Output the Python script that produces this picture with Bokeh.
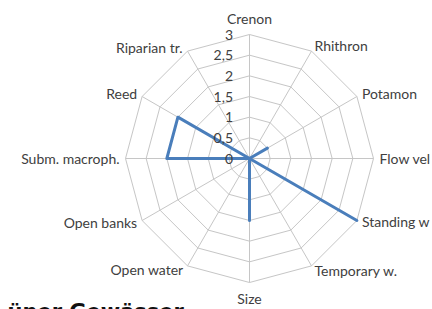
import math
from bokeh.plotting import figure
from bokeh.models import Range1d
from bokeh.core.properties import value
from bokeh.embed import file_html
from bokeh.resources import INLINE

# ---- data ----
categories = ["Crenon", "Rhithron", "Potamon", "Flow vel", "Standing w",
              "Temporary w.", "Size", "Open water", "Open banks", "Subm. macroph.",
              "Reed", "Riparian tr."]
values = [0, 0, 0.5, 0, 3, 0, 1.5, 0, 0, 2, 2, 0]
ring_values = [0.5, 1, 1.5, 2, 2.5, 3]
tick_values = [0, 0.5, 1, 1.5, 2, 2.5, 3]
tick_labels = ["0", "0,5", "1", "1,5", "2", "2,5", "3"]
title_text = "üner Gewässer"

# ---- layout ----
W, H = 432, 309
cx, cy = 249, 158          # centre of the radar in canvas px (from top-left)
R = 124                    # px radius of max value
vmax = 3.0
s = vmax / R               # data units per px

FONT = "Lato"
GRID = "#c6c6c6"
LINE = "#4a7ebb"
TXT = "#404040"

p = figure(width=W, height=H, output_backend="svg", toolbar_location=None,
           x_range=Range1d(-cx * s, (W - cx) * s),
           y_range=Range1d(-(H - cy) * s, cy * s),
           min_border=0)
p.axis.visible = False
p.grid.visible = False
p.outline_line_color = None
p.background_fill_color = "white"
p.border_fill_color = "white"

n = len(categories)
angles = [2 * math.pi * i / n for i in range(n)]

def pt(r, a):
    return r * math.sin(a), r * math.cos(a)

# rings
xs_r, ys_r = [], []
for rv in ring_values:
    pts = [pt(rv, a) for a in angles] + [pt(rv, angles[0])]
    xs_r.append([q[0] for q in pts])
    ys_r.append([q[1] for q in pts])
p.multi_line(xs_r, ys_r, line_color=GRID, line_width=1)

# spokes
ends = [pt(vmax, a) for a in angles]
p.segment(x0=[0] * n, y0=[0] * n, x1=[e[0] for e in ends], y1=[e[1] for e in ends],
          line_color=GRID, line_width=1)

# data line
dpts = [pt(v, a) for v, a in zip(values, angles)]
dpts.append(dpts[0])
p.line([q[0] for q in dpts], [q[1] for q in dpts], line_color=LINE, line_width=3,
       line_join="round")

# category labels (pixel offsets from outer vertex)
offs = [(0, -16), (3, -6), (5, -3), (6, 0), (5, 1), (3, 5),
        (0, 16), (-4, 4), (-5, 2), (-6, 0), (-5, -3), (-5, -4)]
lx, ly, la = [], [], []
for (ex, ey), (dx, dy), a in zip(ends, offs, angles):
    lx.append(ex + dx * s)
    ly.append(ey - dy * s)
    sa = math.sin(a)
    la.append("left" if sa > 0.1 else ("right" if sa < -0.1 else "center"))
for align in ("left", "right", "center"):
    idx = [i for i in range(n) if la[i] == align]
    p.text(x=[lx[i] for i in idx], y=[ly[i] for i in idx],
           text=[categories[i] for i in idx], text_align=align,
           text_baseline="middle", text_font=value(FONT), text_font_size="14px",
           text_color=TXT)

# radial tick labels
p.text(x=[-16.5 * s] * len(tick_values), y=tick_values, text=tick_labels,
       text_align="right", text_baseline="middle", text_font=value(FONT),
       text_font_size="14px", text_color=TXT)

# cut-off title at bottom (only its upper part is visible, as in the reference)
p.text(x=[(7 - cx) * s], y=[-(299 - cy) * s], text=[title_text],
       text_align="left", text_baseline="top", text_font=value("DejaVu Sans"),
       text_font_size="21px", text_font_style="bold", text_color="#111111")

open("out.html", "w").write(file_html(p, INLINE))
